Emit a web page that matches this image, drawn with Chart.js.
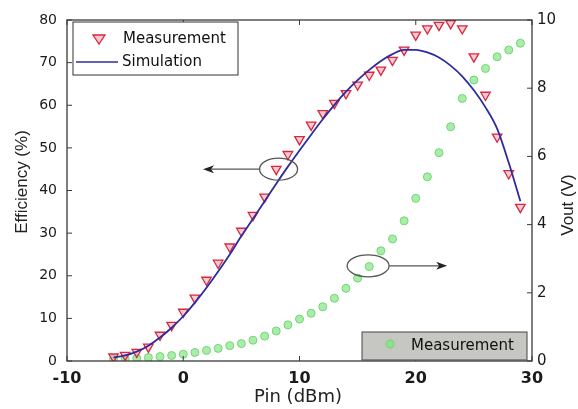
<!DOCTYPE html>
<html>
<head>
<meta charset="utf-8">
<script src="https://cdn.jsdelivr.net/npm/chart.js@4.4.1/dist/chart.umd.min.js"></script>
<style>
  html, body { margin: 0; padding: 0; background: #fff; }
  #wrap { width: 578px; height: 409px; }
</style>
</head>
<body>
<div id="wrap"><canvas id="c" width="578" height="409"></canvas></div>
<script>
// input power sweep (dBm)
const pinDbm = [-6, -5, -4, -3, -2, -1, 0, 1, 2, 3, 4, 5, 6, 7, 8, 9, 10, 11,
  12, 13, 14, 15, 16, 17, 18, 19, 20, 21, 22, 23, 24, 25, 26, 27, 28, 29]

// efficiency (%), left axis
const effMeasured = [1.0, 1.4, 2.1, 3.3, 6.1, 8.4, 11.5, 14.8, 19.0, 23.0, 26.8, 30.5,
  34.2, 38.5, 45.0, 48.5, 52.0, 55.4, 58.1, 60.5, 62.8, 64.8, 67.1, 68.3, 70.6, 73.0,
  76.5, 78.0, 78.8, 79.2, 78.0, 71.4, 62.4, 52.6, 44.0, 36.1]
const effSimulated = [0.8, 1.3, 2.2, 3.6, 5.5, 7.8, 10.5, 13.7, 17.2, 21.0, 25.0, 29.3,
  33.4, 37.5, 41.6, 45.6, 49.4, 53.1, 56.7, 60.1, 63.2, 65.9, 68.3, 70.4, 72.0, 73.0,
  73.0, 72.4, 71.2, 69.3, 66.8, 63.5, 59.5, 54.5, 46.5, 37.5]

// output voltage (V), right axis
const voutMeasured = [0.05, 0.06, 0.08, 0.10, 0.13, 0.16, 0.20, 0.25, 0.31, 0.37, 0.45,
  0.51, 0.61, 0.73, 0.88, 1.06, 1.23, 1.40, 1.59, 1.84, 2.13, 2.43, 2.77, 3.23, 3.58,
  4.11, 4.77, 5.40, 6.11, 6.87, 7.70, 8.24, 8.58, 8.92, 9.12, 9.32]

const xTicks = [-10, 0, 10, 20, 30]
const effTicks = [0, 10, 20, 30, 40, 50, 60, 70, 80]
const voutTicks = [0, 2, 4, 6, 8, 10]

const toPoints = (ys) => pinDbm.map((x, i) => ({ x: x, y: ys[i] }))

const RED = '#d8283c'
const BLUE = '#2c2ca0'
const GREEN = '#6fd86f'
const AXIS = '#3a3a3a'

// circled points with arrows telling which axis a curve belongs to
const callouts = [
  { x: 8.2, y: 45, axis: 'y', rx: 19, ry: 11, tipX: 1.7 },
  { x: 15.9, y: 2.79, axis: 'y2', rx: 21, ry: 11, tipX: 22.7 },
]

function arrow(ctx, x0, y, x1) {
  const dir = Math.sign(x1 - x0)
  ctx.beginPath()
  ctx.moveTo(x0, y)
  ctx.lineTo(x1 - dir * 8, y)
  ctx.stroke()
  ctx.beginPath()
  ctx.moveTo(x1, y)
  ctx.lineTo(x1 - dir * 11, y - 4)
  ctx.lineTo(x1 - dir * 8, y)
  ctx.lineTo(x1 - dir * 11, y + 4)
  ctx.closePath()
  ctx.fill()
}

const decorations = {
  id: 'decorations',
  afterDraw(chart) {
    const { ctx, chartArea: a, scales } = chart
    const sx = scales.x, sy = scales.y, sy2 = scales.y2
    ctx.save()

    // axes box
    ctx.strokeStyle = AXIS
    ctx.lineWidth = 1.3
    ctx.strokeRect(a.left, a.top, a.right - a.left, a.bottom - a.top)

    // inward tick marks
    ctx.lineWidth = 1
    ctx.beginPath()
    xTicks.forEach(v => {
      const px = sx.getPixelForValue(v)
      ctx.moveTo(px, a.bottom); ctx.lineTo(px, a.bottom - 5)
      ctx.moveTo(px, a.top); ctx.lineTo(px, a.top + 5)
    })
    effTicks.forEach(v => {
      const py = sy.getPixelForValue(v)
      ctx.moveTo(a.left, py); ctx.lineTo(a.left + 5, py)
    })
    voutTicks.forEach(v => {
      const py = sy2.getPixelForValue(v)
      ctx.moveTo(a.right, py); ctx.lineTo(a.right - 5, py)
    })
    ctx.stroke()

    // axis titles
    ctx.fillStyle = '#222'
    ctx.textAlign = 'center'
    ctx.textBaseline = 'middle'
    ctx.font = '18px "DejaVu Sans"'
    ctx.fillText('Pin (dBm)', 298, 397)
    ctx.font = '17px "Liberation Sans", Arial'
    ctx.save()
    ctx.translate(22, 182)
    ctx.rotate(-Math.PI / 2)
    ctx.fillText('Efficiency (%)', 0, 0)
    ctx.restore()
    ctx.save()
    ctx.translate(568, 205)
    ctx.rotate(-Math.PI / 2)
    ctx.fillText('Vout (V)', 0, 0)
    ctx.restore()

    // callouts
    ctx.strokeStyle = '#555'
    ctx.fillStyle = '#222'
    ctx.lineWidth = 1.3
    callouts.forEach(c => {
      const cx = sx.getPixelForValue(c.x)
      const cy = scales[c.axis].getPixelForValue(c.y)
      const tip = sx.getPixelForValue(c.tipX)
      ctx.beginPath()
      ctx.ellipse(cx, cy, c.rx, c.ry, 0, 0, Math.PI * 2)
      ctx.stroke()
      const edge = tip < cx ? cx - c.rx : cx + c.rx
      arrow(ctx, edge, cy, tip)
    })

    // legend for the efficiency curves
    ctx.lineWidth = 1
    ctx.strokeStyle = '#333'
    ctx.fillStyle = '#fff'
    ctx.fillRect(73, 22, 165, 53)
    ctx.strokeRect(73, 22, 165, 53)
    ctx.font = '15px "DejaVu Sans"'
    ctx.textAlign = 'left'
    ctx.fillStyle = '#111'
    ctx.fillText('Measurement', 123, 39)
    ctx.fillText('Simulation', 122, 62)
    const mDs = chart.getDatasetMeta(0).dataset
    ctx.fillStyle = 'rgba(244,160,180,0.6)'
    ctx.strokeStyle = RED
    ctx.lineWidth = 1.3
    ctx.beginPath()
    ctx.moveTo(93, 35); ctx.lineTo(105, 35); ctx.lineTo(99, 44); ctx.closePath()
    ctx.fill(); ctx.stroke()
    ctx.strokeStyle = BLUE
    ctx.lineWidth = 1.6
    ctx.beginPath(); ctx.moveTo(76, 62); ctx.lineTo(118, 62); ctx.stroke()

    // legend for the voltage curve
    ctx.fillStyle = '#c6c6c2'
    ctx.fillRect(362, 332, 165, 28)
    ctx.strokeStyle = '#444'
    ctx.lineWidth = 1
    ctx.strokeRect(362, 332, 165, 28)
    ctx.fillStyle = '#8fe08f'
    ctx.strokeStyle = GREEN
    ctx.beginPath(); ctx.arc(390, 344, 4, 0, Math.PI * 2); ctx.fill(); ctx.stroke()
    ctx.fillStyle = '#111'
    ctx.fillText('Measurement', 411, 346)

    ctx.restore()
  }
}

new Chart(document.getElementById('c'), {
  type: 'scatter',
  data: {
    datasets: [
      {
        label: 'Measurement',
        data: toPoints(effMeasured),
        yAxisID: 'y',
        showLine: false,
        pointStyle: 'triangle',
        rotation: 180,
        pointRadius: 5.5,
        borderColor: RED,
        backgroundColor: 'rgba(244,160,180,0.55)',
        pointBorderWidth: 1.3,
        order: 2,
      },
      {
        label: 'Simulation',
        data: toPoints(effSimulated),
        yAxisID: 'y',
        showLine: true,
        pointRadius: 0,
        borderColor: BLUE,
        borderWidth: 1.8,
        cubicInterpolationMode: 'monotone',
        order: 1,
      },
      {
        label: 'Measurement',
        data: toPoints(voutMeasured),
        yAxisID: 'y2',
        showLine: false,
        pointStyle: 'circle',
        pointRadius: 4,
        borderColor: GREEN,
        backgroundColor: 'rgba(150,230,150,0.8)',
        pointBorderWidth: 1,
        order: 3,
      },
    ]
  },
  options: {
    responsive: false,
    animation: false,
    layout: { padding: { top: 20 } },
    plugins: {
      legend: { display: false },
      tooltip: { enabled: false },
    },
    scales: {
      x: {
        type: 'linear',
        min: -10, max: 30,
        afterBuildTicks: s => { s.ticks = xTicks.map(v => ({ value: v })) },
        afterFit: s => { s.height = 48 },
        grid: { display: false, drawTicks: false },
        border: { display: false },
        ticks: { padding: 8, color: '#1a1a1a', font: { family: 'DejaVu Sans', size: 16, weight: 'bold' } },
      },
      y: {
        position: 'left',
        min: 0, max: 80,
        afterBuildTicks: s => { s.ticks = effTicks.map(v => ({ value: v })) },
        afterFit: s => { s.width = 67 },
        grid: { display: false, drawTicks: false },
        border: { display: false },
        ticks: { padding: 10, color: '#1a1a1a', font: { family: 'DejaVu Sans', size: 14 } },
      },
      y2: {
        position: 'right',
        min: 0, max: 10,
        afterBuildTicks: s => { s.ticks = voutTicks.map(v => ({ value: v })) },
        afterFit: s => { s.width = 46 },
        grid: { display: false, drawTicks: false },
        border: { display: false },
        ticks: { padding: 5, color: '#1a1a1a', font: { family: 'DejaVu Sans', size: 15 } },
      },
    }
  },
  plugins: [decorations]
})
</script>
</body>
</html>
